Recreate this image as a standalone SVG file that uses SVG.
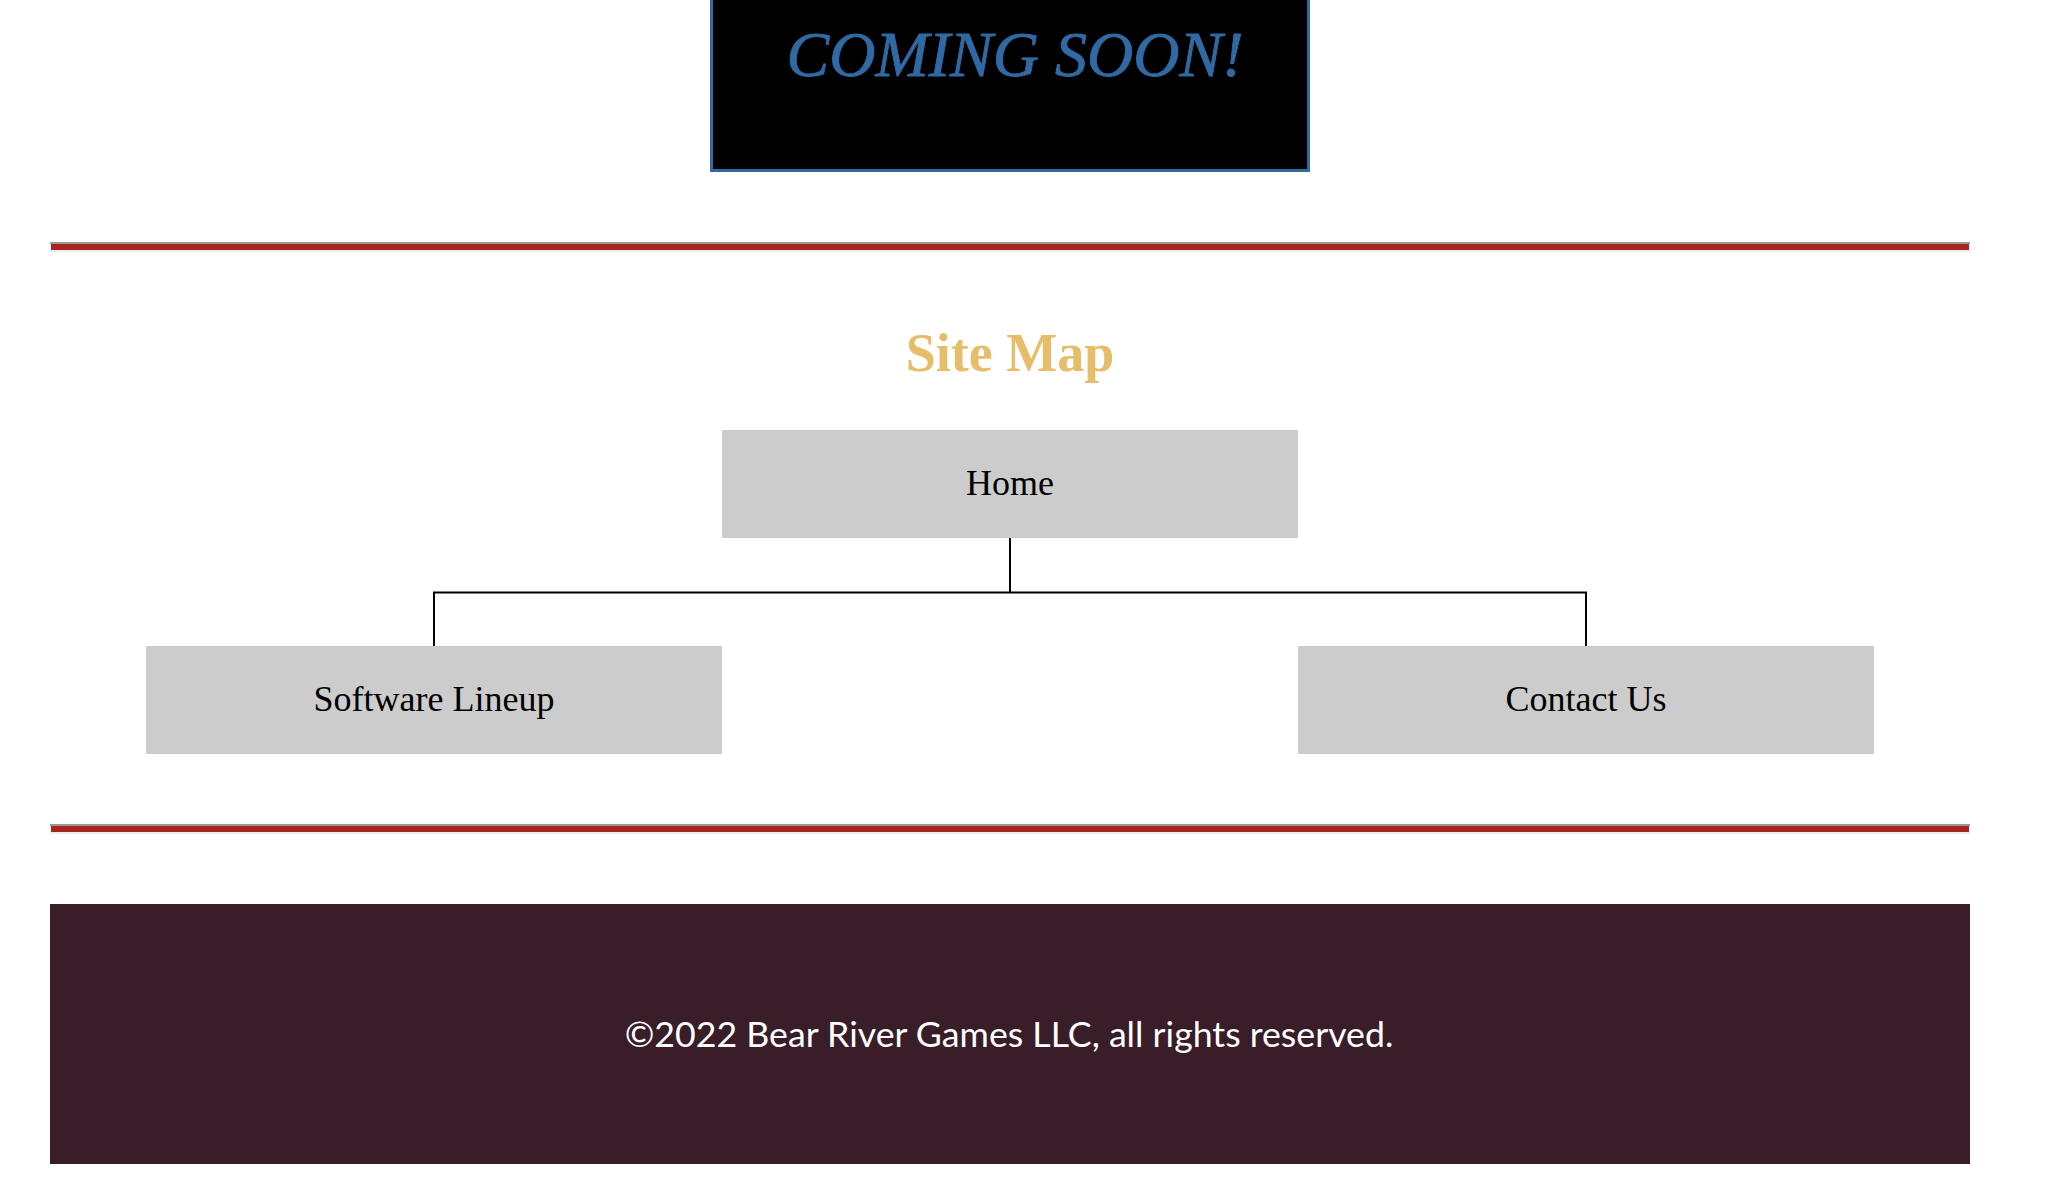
<svg xmlns="http://www.w3.org/2000/svg" width="2050" height="1201" viewBox="0 0 2050 1201">
<style>
.node rect{fill:#cccccc}
.node text{font-family:"Liberation Serif","Times New Roman",serif;font-size:36px;fill:#000;text-anchor:middle}
.conn{stroke:#000;stroke-width:2;fill:none}
.hr-top{fill:#999999}
.hr-red{fill:#a6261f}
.hr-bot{fill:#ececec}
</style>
<rect x="0" y="0" width="2050" height="1201" fill="#ffffff"/>
<g id="banner">
<rect x="711.5" y="-5" width="597" height="175.5" fill="#000000" stroke="#2f6aa4" stroke-width="3"/>
<text x="1015" y="76" font-family="'Liberation Serif','Times New Roman',serif" font-style="italic" font-size="64" fill="#2f6aa4" stroke="#2f6aa4" stroke-width="0.8" text-anchor="middle">COMING SOON!</text>
</g>
<g id="hr1">
<rect class="hr-top" x="50" y="242" width="1920" height="2"/>
<rect class="hr-red" x="51" y="244" width="1918" height="6"/>
<rect class="hr-bot" x="50" y="250" width="1920" height="2"/>
</g>
<text id="title" x="1010" y="371" font-family="'Liberation Serif','Times New Roman',serif" font-weight="bold" font-size="54" fill="#e6bd69" text-anchor="middle">Site Map</text>
<g id="connectors">
<path class="conn" d="M1010 538 V592.5 M434 592.5 H1586 M434 591.5 V646 M1586 591.5 V646"/>
</g>
<g id="node-home" class="node">
<rect x="722" y="430" width="576" height="108"/>
<text x="1010" y="495">Home</text>
</g>
<g id="node-software" class="node">
<rect x="146" y="646" width="576" height="108"/>
<text x="434" y="711">Software Lineup</text>
</g>
<g id="node-contact" class="node">
<rect x="1298" y="646" width="576" height="108"/>
<text x="1586" y="711">Contact Us</text>
</g>
<g id="hr2">
<rect class="hr-top" x="50" y="824" width="1920" height="2"/>
<rect class="hr-red" x="51" y="826" width="1918" height="6"/>
<rect class="hr-bot" x="50" y="832" width="1920" height="2"/>
</g>
<g id="footer">
<rect x="50" y="904" width="1920" height="260" fill="#391e2a"/>
<text x="1009" y="1047" font-family="Lato,'Liberation Sans',sans-serif" font-size="35.7" fill="#ffffff" text-anchor="middle">©2022 Bear River Games LLC, all rights reserved.</text>
</g>
</svg>
